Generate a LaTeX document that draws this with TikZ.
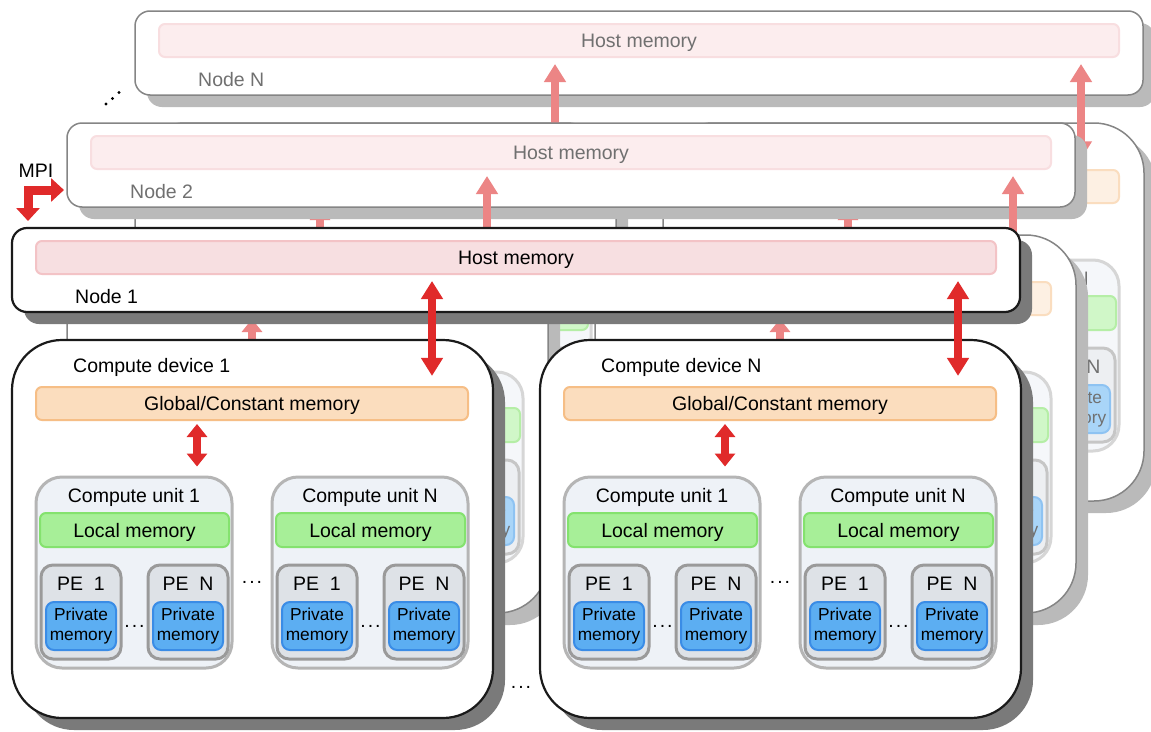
\documentclass[tikz,border=0pt]{standalone}
\usepackage{fontspec}
\setmainfont{Liberation Sans}
\usetikzlibrary{arrows.meta,shadows}
% palette A = front layer, palette B = faded layers
\definecolor{txtA}{HTML}{000000}\definecolor{txtB}{HTML}{707070}
\definecolor{bdA}{HTML}{1A1A1A}\definecolor{bdB}{HTML}{858585}
\definecolor{shA}{HTML}{7A7A7A}\definecolor{shB}{HTML}{BABABA}
\definecolor{hmfA}{HTML}{F7DFE1}\definecolor{hmdA}{HTML}{F3C3C6}
\definecolor{hmfB}{HTML}{FCEDEE}\definecolor{hmdB}{HTML}{F8DEE0}
\definecolor{gfA}{HTML}{FBDDBE}\definecolor{gdA}{HTML}{F6BE86}
\definecolor{gfB}{HTML}{FDF0E3}\definecolor{gdB}{HTML}{FADDBF}
\definecolor{cufA}{HTML}{EEF2F7}\definecolor{cudA}{HTML}{B5B5B5}
\definecolor{cufB}{HTML}{F5F7FA}\definecolor{cudB}{HTML}{D6D6D6}
\definecolor{lmfA}{HTML}{A7EF98}\definecolor{lmdA}{HTML}{84E26E}
\definecolor{lmfB}{HTML}{D0F7C8}\definecolor{lmdB}{HTML}{B5EEA6}
\definecolor{pefA}{HTML}{DEE2E7}\definecolor{pedA}{HTML}{9A9A9A}
\definecolor{pefB}{HTML}{EDEFF2}\definecolor{pedB}{HTML}{C6C6C6}
\definecolor{pmfA}{HTML}{5CAEF2}\definecolor{pmdA}{HTML}{3A8CE6}
\definecolor{pmfB}{HTML}{A9D5F8}\definecolor{pmdB}{HTML}{8EC3F2}
\definecolor{arA}{HTML}{E02A2A}\definecolor{arB}{HTML}{EC8585}
\tikzset{
  lwA/.style={line width=2.2pt}, lwB/.style={line width=1.5pt},
  captxt/.style={text height=14pt, text depth=0pt},
  box/.style={draw=bd#1, lw#1, fill=white,
    drop shadow={shadow xshift=12pt, shadow yshift=-12pt, fill=sh#1, opacity=1}},
  bar/.style 2 args={draw=#2, fill=#1, line width=2pt, rounded corners=6pt, captxt},
  cubox/.style={draw=cud#1, fill=cuf#1, line width=3pt, rounded corners=26pt,
    minimum width=196pt, minimum height=191pt},
  pebox/.style={draw=ped#1, fill=pef#1, line width=3pt, rounded corners=12pt,
    minimum width=80pt, minimum height=94pt},
  pmbox/.style={draw=pmd#1, fill=pmf#1, line width=2pt, rounded corners=8pt,
    minimum width=70pt, minimum height=48pt, align=center,
    font=\fontsize{17.3}{19.5}\selectfont, text=txt#1},
  bigarr/.style={draw=ar#1, line width=8pt, line cap=butt,
    {Triangle[width=21pt,length=18pt]}-{Triangle[width=21pt,length=18pt]}},
  smallarr/.style={draw=ar#1, line width=8pt, line cap=butt,
    {Triangle[width=20pt,length=13pt]}-{Triangle[width=20pt,length=13pt]}},
}
% compute unit: #1 x offset, #2 name suffix, #3 palette, #4 label
\newcommand\drawcu[4]{%
\begin{scope}[shift={(#1,0)}]
  \node[cubox=#3] (cu#2) at (134,572.5) {};
  \node[captxt, text=txt#3] (cul#2) at (134,495) {Compute unit #4};
  \node[bar={lmf#3}{lmd#3}, minimum width=189pt, minimum height=34pt, text=txt#3] (lm#2) at (134.5,530) {Local memory};
  \node[pebox=#3] (pea#2) at (81,612) {};
  \node[captxt, text=txt#3] (peal#2) at (81,583) {PE~~1};
  \node[pmbox=#3] (pma#2) at (81,626) {Private\\memory};
  \node[pebox=#3] (peb#2) at (188,612) {};
  \node[captxt, text=txt#3] (pebl#2) at (188,583) {PE~~N};
  \node[pmbox=#3] (pmb#2) at (188,626) {Private\\memory};
  \node[text=txt#3, anchor=base] (ped#2) at (134.5,627) {.\kern2pt.\kern2pt.};
\end{scope}}
% compute device: #1 x offset, #2 suffix, #3 palette, #4 label
\newcommand\drawcd[4]{%
\begin{scope}[shift={(#1,0)}]
  \node[box=#3, rounded corners=50pt, minimum width=481pt, minimum height=378pt] (cd#2) at (252.5,529) {};
  \node[captxt, anchor=west, text=txt#3] (cdl#2) at (73,365) {Compute device #4};
  \node[bar={gf#3}{gd#3}, minimum width=432pt, minimum height=33pt, text=txt#3] (gm#2) at (252,403.5) {Global/Constant memory};
  \drawcu{0}{#2a}{#3}{1}
  \drawcu{236}{#2b}{#3}{N}
  \node[text=txt#3, anchor=base] (cud#2) at (252,583) {.\kern2pt.\kern2pt.};
  \draw[smallarr=#3] ([shift={(-55,3)}]gm#2.south) -- ([shift={(63,-9)}]cu#2a.north);
\end{scope}}
% whole node layer: #1 dx, #2 dy, #3 suffix, #4 palette, #5 label
\newcommand\drawlayer[5]{%
\begin{scope}[shift={(#1,#2)}]
  \node[box=#4, rounded corners=15pt, minimum width=1008pt, minimum height=84pt] (host#3) at (516,270) {};
  \node[bar={hmf#4}{hmd#4}, minimum width=960pt, minimum height=33pt, text=txt#4] (hm#3) at (516,257.5) {Host memory};
  \node[captxt, anchor=west, text=txt#4] (nl#3) at (75,296) {#5};
  \drawcd{0}{a#3}{#4}{1}
  \drawcd{528}{b#3}{#4}{N}
  \node[text=txt#4, anchor=base] (cdd#3) at (521,688) {.\kern2pt.\kern2pt.};
  \draw[bigarr=#4] ([shift={(-84,6)}]hm#3.south) -- ([shift={(179.5,37)}]cda#3.north);
  \draw[bigarr=#4] ([shift={(442,6)}]hm#3.south) -- ([shift={(177.5,37)}]cdb#3.north);
\end{scope}}
\begin{document}
\begin{tikzpicture}[x=1pt, y=-1pt, every node/.style={font=\fontsize{19.5}{22}\selectfont, inner sep=0pt}]
\useasboundingbox (0,0) rectangle (1151,731);
\clip (0,0) rectangle (1151,731);
\fill[white] (0,0) rectangle (1151,731);
\drawlayer{123}{-217}{N}{B}{Node N}
\drawlayer{55}{-105}{2}{B}{Node 2}
\drawlayer{0}{0}{1}{A}{Node 1}
% MPI
\node[captxt] (mpi) at (36,170) {MPI};
\coordinate (mpidown) at (28,221);
\coordinate (mpiright) at (64,190);
\draw[draw=arA, line width=9pt, line join=miter,
  {Triangle[width=23pt,length=13pt]}-{Triangle[width=23pt,length=13pt]}] (mpidown) |- (mpiright);
% dots towards Node N
\fill (106,104) circle (1.7) (112.5,98.5) circle (1.7) (119,92.5) circle (1.7);
\end{tikzpicture}
\end{document}
